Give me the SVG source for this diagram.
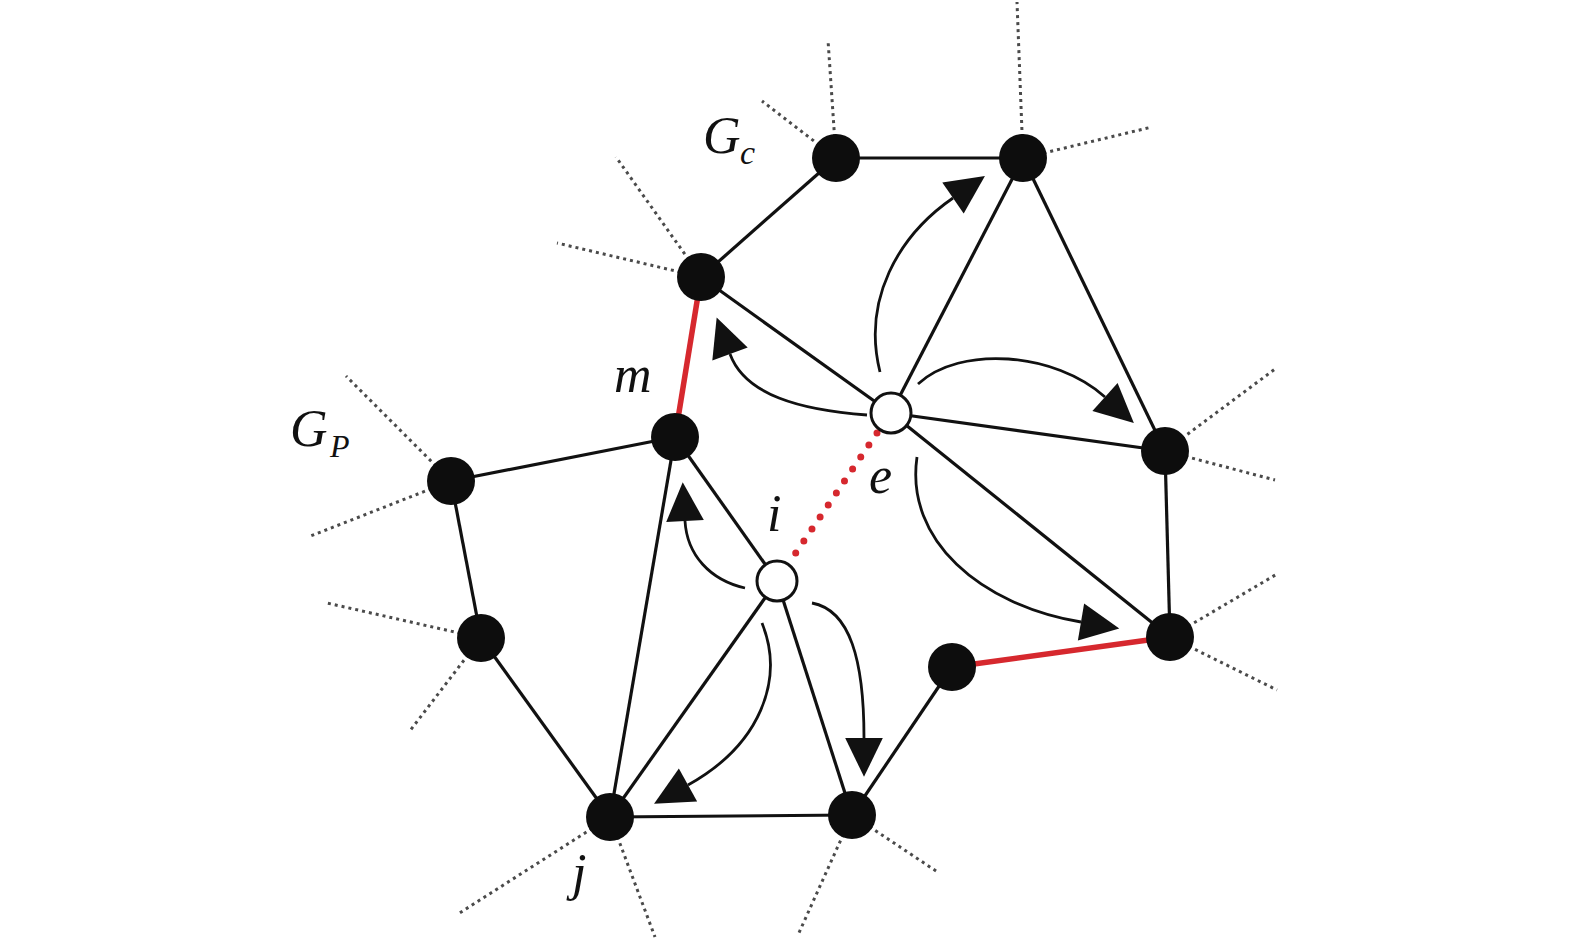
<svg xmlns="http://www.w3.org/2000/svg" width="1575" height="939" viewBox="0 0 1575 939">
<style>
.edge{stroke:#111;stroke-width:3.2;fill:none}
.red{stroke:#d6282e;stroke-width:5.5;fill:none}
.reddot{stroke:#d6282e;stroke-width:7;stroke-linecap:round;stroke-dasharray:0 14.5;fill:none}
.stub{stroke:#4a4a4a;stroke-width:3;stroke-dasharray:3 4;fill:none}
.arc{stroke:#111;stroke-width:2.8;fill:none;marker-end:url(#ah)}
.node{fill:#0d0d0d}
.hollow{fill:#fff;stroke:#111;stroke-width:3}
.lbl{font-family:"Liberation Serif","Times New Roman",serif;font-style:italic;fill:#111}
</style>
<defs>
<marker id="ah" markerUnits="userSpaceOnUse" markerWidth="40" markerHeight="40" refX="0" refY="16" orient="auto" viewBox="0 0 34 32" overflow="visible">
<path d="M0,0 L33,16 L0,32 Z" fill="#111"/>
</marker>
</defs>
<rect width="1575" height="939" fill="#fff"/>
<g id="stubs">
<line class="stub" x1="836" y1="158" x2="828" y2="40"/>
<line class="stub" x1="836" y1="158" x2="762" y2="101"/>
<line class="stub" x1="1023" y1="158" x2="1017" y2="2"/>
<line class="stub" x1="1023" y1="158" x2="1152" y2="127"/>
<line class="stub" x1="701" y1="277" x2="616" y2="157"/>
<line class="stub" x1="701" y1="277" x2="557" y2="243"/>
<line class="stub" x1="451" y1="481" x2="346" y2="376"/>
<line class="stub" x1="451" y1="481" x2="308" y2="537"/>
<line class="stub" x1="481" y1="638" x2="327" y2="603"/>
<line class="stub" x1="481" y1="638" x2="409" y2="732"/>
<line class="stub" x1="610" y1="817" x2="458" y2="914"/>
<line class="stub" x1="610" y1="817" x2="655" y2="937"/>
<line class="stub" x1="852" y1="815" x2="798" y2="935"/>
<line class="stub" x1="852" y1="815" x2="939" y2="873"/>
<line class="stub" x1="1170" y1="637" x2="1277" y2="574"/>
<line class="stub" x1="1170" y1="637" x2="1277" y2="690"/>
<line class="stub" x1="1165" y1="451" x2="1275" y2="369"/>
<line class="stub" x1="1165" y1="451" x2="1275" y2="480"/>
</g>
<g id="connectors">
<line class="edge" x1="836" y1="158" x2="1023" y2="158"/>
<line class="edge" x1="836" y1="158" x2="701" y2="277"/>
<line class="edge" x1="701" y1="277" x2="891" y2="413"/>
<line class="edge" x1="1023" y1="158" x2="891" y2="413"/>
<line class="edge" x1="1023" y1="158" x2="1165" y2="451"/>
<line class="edge" x1="891" y1="413" x2="1165" y2="451"/>
<line class="edge" x1="891" y1="413" x2="1170" y2="637"/>
<line class="edge" x1="1165" y1="451" x2="1170" y2="637"/>
<line class="edge" x1="952" y1="667" x2="852" y2="815"/>
<line class="edge" x1="852" y1="815" x2="610" y2="817"/>
<line class="edge" x1="610" y1="817" x2="481" y2="638"/>
<line class="edge" x1="481" y1="638" x2="451" y2="481"/>
<line class="edge" x1="451" y1="481" x2="675" y2="437"/>
<line class="edge" x1="675" y1="437" x2="610" y2="817"/>
<line class="edge" x1="675" y1="437" x2="777" y2="581"/>
<line class="edge" x1="777" y1="581" x2="610" y2="817"/>
<line class="edge" x1="777" y1="581" x2="852" y2="815"/>
<line class="red" x1="701" y1="277" x2="675" y2="437"/>
<line class="red" x1="952" y1="667" x2="1170" y2="637"/>
<line class="reddot" x1="877" y1="433" x2="789" y2="563"/>
<path class="arc" d="M 880 372 C 862 300, 898 236, 953 198"/>
<path class="arc" d="M 867 415 C 800 410, 745 395, 730 354"/>
<path class="arc" d="M 918 384 C 960 345, 1055 352, 1105 397"/>
<path class="arc" d="M 917 457 C 905 540, 980 605, 1081 622"/>
<path class="arc" d="M 745 588 C 710 580, 687 555, 685 521"/>
<path class="arc" d="M 762 623 C 785 680, 760 745, 688 785"/>
<path class="arc" d="M 812 603 C 850 610, 864 660, 864 738"/>
</g>
<g id="node-A"><circle class="node" cx="836" cy="158" r="24"/></g>
<g id="node-B"><circle class="node" cx="1023" cy="158" r="24"/></g>
<g id="node-C"><circle class="node" cx="701" cy="277" r="24"/></g>
<g id="node-m"><circle class="node" cx="675" cy="437" r="24"/></g>
<g id="node-D"><circle class="node" cx="451" cy="481" r="24"/></g>
<g id="node-E"><circle class="node" cx="481" cy="638" r="24"/></g>
<g id="node-j"><circle class="node" cx="610" cy="817" r="24"/></g>
<g id="node-F"><circle class="node" cx="852" cy="815" r="24"/></g>
<g id="node-G"><circle class="node" cx="952" cy="667" r="24"/></g>
<g id="node-H"><circle class="node" cx="1170" cy="637" r="24"/></g>
<g id="node-K"><circle class="node" cx="1165" cy="451" r="24"/></g>
<g id="node-e"><circle class="hollow" cx="891" cy="413" r="20"/></g>
<g id="node-i"><circle class="hollow" cx="777" cy="581" r="20"/></g>
<g id="labels">
<text class="lbl" x="703" y="153" font-size="52">G</text>
<text class="lbl" x="740" y="164" font-size="34">c</text>
<text class="lbl" x="290" y="446" font-size="52">G</text>
<text class="lbl" x="330" y="457" font-size="32">P</text>
<text class="lbl" x="614" y="392" font-size="52">m</text>
<text class="lbl" x="767" y="531" font-size="52">i</text>
<text class="lbl" x="869" y="493" font-size="52">e</text>
<text class="lbl" x="572" y="890" font-size="52">j</text>
</g>
</svg>
